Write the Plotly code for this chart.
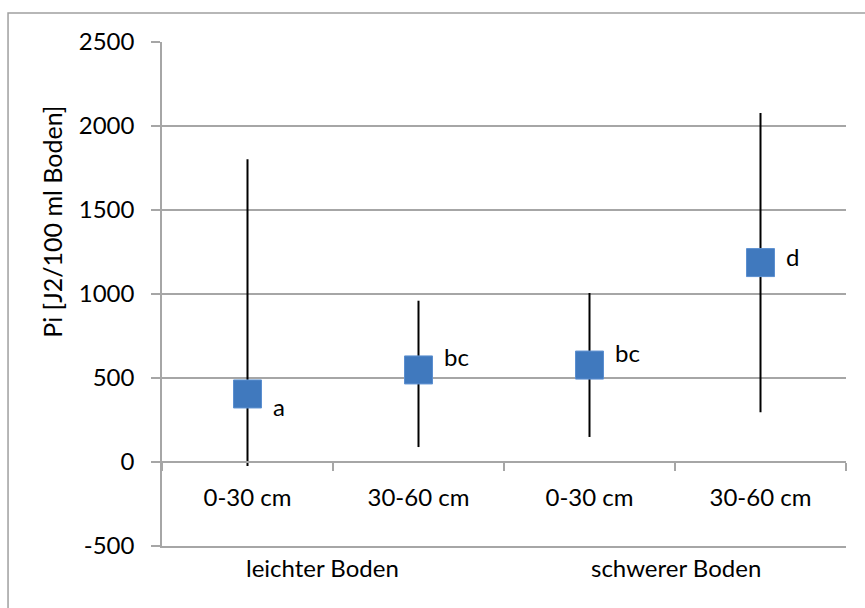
import plotly.graph_objects as go

# ---- data ----
depths = ["0-30 cm", "30-60 cm", "0-30 cm", "30-60 cm"]
soil_groups = ["leichter Boden", "schwerer Boden"]
group_pos = [0.936, 3.005]
x_pos = [0.5, 1.5, 2.5, 3.5]
pi_mean = [405, 548, 577, 1187]
pi_low = [-24, 89, 149, 296]
pi_high = [1802, 960, 1006, 2077]
letters = ["a", "bc", "bc", "d"]
label_dy = [-13, 13, 13, 6]
y_ticks = [-500, 0, 500, 1000, 1500, 2000, 2500]
y_ticktext = ["-500", "0", "500", "1000", "1500", "2000", "2500"]
cat_bounds = [0, 1, 2, 3, 4]

FONT = "Lato"
FS = 24
GRID = "#a6a6a6"

err_plus = [h - m for h, m in zip(pi_high, pi_mean)]
err_minus = [m - l for m, l in zip(pi_mean, pi_low)]

fig = go.Figure()
fig.add_trace(go.Scatter(
    x=x_pos, y=pi_mean, mode="markers",
    marker=dict(symbol="square", size=28, color="#4079be",
                line=dict(color="#5b8fd0", width=1)),
    error_y=dict(type="data", symmetric=False, array=err_plus,
                 arrayminus=err_minus, color="black", thickness=2, width=0),
    showlegend=False, hoverinfo="skip",
))
# invisible trace on a second x axis that draws the bottom (-500) line
fig.add_trace(go.Scatter(x=[None], y=[None], xaxis="x2", yaxis="y",
                         showlegend=False, hoverinfo="skip"))

for xv, yv, t, dy in zip(x_pos, pi_mean, letters, label_dy):
    fig.add_annotation(x=xv, y=yv, text=t, showarrow=False, xanchor="left",
                       yanchor="middle", xshift=23, yshift=dy,
                       font=dict(family=FONT, size=FS, color="black"))

for gx, g in zip(group_pos, soil_groups):
    fig.add_annotation(x=gx, y=-0.0417, xref="x", yref="paper", text=g,
                       showarrow=False, xanchor="center", yanchor="middle",
                       font=dict(family=FONT, size=FS, color="black"))

fig.add_annotation(x=-0.161, y=0.643, xref="paper", yref="paper",
                   xanchor="center", yanchor="middle",
                   text="Pi [J2/100 ml Boden]", textangle=-90, showarrow=False,
                   font=dict(family=FONT, size=25, color="black"))

# outer chart frame (only left/top visible in the reference)
fig.add_shape(type="rect", xref="paper", yref="paper",
              x0=-0.2251, y0=-1, x1=2, y1=1.0575,
              line=dict(color="#a0a0a0", width=1.5), layer="below")

fig.update_layout(
    width=865, height=608,
    margin=dict(l=162, r=19, t=42, b=62),
    paper_bgcolor="white", plot_bgcolor="white",
    font=dict(family=FONT, size=FS, color="black"),
    xaxis=dict(range=[0, 4], tickmode="array", tickvals=x_pos, ticktext=depths,
               ticks="", showgrid=False, zeroline=False,
               showline=True, linecolor=GRID, linewidth=1.5,
               anchor="free", position=1/6, ticklabelstandoff=14,
               minor=dict(tickmode="array", tickvals=cat_bounds, ticks="outside",
                          ticklen=8, tickcolor=GRID, tickwidth=1.5, showgrid=False),
               fixedrange=True),
    xaxis2=dict(range=[0, 4], overlaying="x", anchor="y", side="bottom",
                showline=True, linecolor=GRID, linewidth=1.5, showgrid=False,
                zeroline=False, ticks="", showticklabels=False, fixedrange=True),
    yaxis=dict(range=[-500, 2500], tickmode="array", tickvals=y_ticks,
               ticktext=y_ticktext,
               showgrid=True, gridcolor=GRID, gridwidth=1.5, zeroline=False,
               showline=True, linecolor=GRID, linewidth=1.5,
               ticks="outside", ticklen=9, tickcolor=GRID, tickwidth=1.5,
               ticklabelstandoff=12, fixedrange=True),
)

fig.write_html("out.html")
